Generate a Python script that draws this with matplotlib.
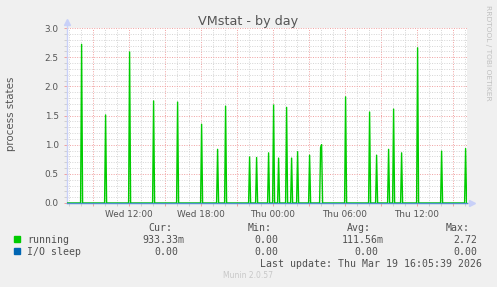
import numpy as np
import matplotlib
matplotlib.use('Agg')
import matplotlib.pyplot as plt
import matplotlib.dates as mdates
from matplotlib.patches import Rectangle

# spikes (5 minute samples, everything else is 0)
spike_times = ['2026-03-18T08:05', '2026-03-18T10:05', '2026-03-18T12:05', '2026-03-18T14:05',
               '2026-03-18T16:05', '2026-03-18T18:05', '2026-03-18T19:25', '2026-03-18T20:05',
               '2026-03-18T22:05', '2026-03-18T22:40', '2026-03-18T23:40', '2026-03-19T00:05',
               '2026-03-19T00:30', '2026-03-19T01:10', '2026-03-19T01:35', '2026-03-19T02:05',
               '2026-03-19T03:05', '2026-03-19T04:00', '2026-03-19T04:05', '2026-03-19T06:05',
               '2026-03-19T08:05', '2026-03-19T08:40', '2026-03-19T09:40', '2026-03-19T10:05',
               '2026-03-19T10:45', '2026-03-19T12:05', '2026-03-19T14:05', '2026-03-19T16:05']
spike_values = [2.72, 1.51, 2.59, 1.75,
                1.73, 1.35, 0.92, 1.66,
                0.79, 0.78, 0.86, 1.68,
                0.77, 1.64, 0.77, 0.88,
                0.82, 0.95, 1.00, 1.82,
                1.56, 0.82, 0.92, 1.61,
                0.86, 2.66, 0.89, 0.9333]

t_start = np.datetime64('2026-03-18T06:50')
t_end = np.datetime64('2026-03-19T16:10')
times = np.arange(t_start, t_end + np.timedelta64(5, 'm'), np.timedelta64(5, 'm'))
running = np.zeros(len(times))
for t, v in zip(spike_times, spike_values):
    running[times == np.datetime64(t)] = v
io_sleep = np.zeros(len(times))

legend_rows = [('running', '#00CC00', '933.33m', '0.00', '111.56m', '2.72'),
               ('I/O sleep', '#0066B3', '0.00', '0.00', '0.00', '0.00')]

W, H = 497, 287
fig = plt.figure(figsize=(W / 100, H / 100), dpi=100, facecolor='#F0F0F0')
ax = fig.add_axes([67 / W, 84 / H, 400 / W, 175 / H])
ax.set_facecolor('white')

ax.plot(times, running, color='#00CC00', lw=1.0, zorder=3)
ax.plot(times, io_sleep, color='#0066B3', lw=1.0, zorder=4, alpha=0.6, clip_on=False)

ax.set_xlim(np.datetime64('2026-03-18T06:52'), np.datetime64('2026-03-19T16:12'))
ax.set_ylim(0, 3.0)

ax.xaxis.set_major_locator(mdates.HourLocator(byhour=range(0, 24, 3)))
ax.xaxis.set_minor_locator(mdates.HourLocator())


def fmt_x(x, pos):
    d = mdates.num2date(x)
    return d.strftime('%a %H:%M') if d.hour % 6 == 0 else ''


ax.xaxis.set_major_formatter(plt.FuncFormatter(fmt_x))
ax.set_yticks(np.arange(0, 3.01, 0.5))
ax.set_yticks(np.arange(0, 3.01, 0.1), minor=True)
ax.yaxis.set_major_formatter(plt.FormatStrFormatter('%.1f'))

ax.set_axisbelow(True)
ax.grid(which='minor', color='#D4D4D4', lw=0.7, linestyle=(0, (1, 1.5)))
ax.grid(which='major', color='#F0A0A0', lw=0.7, linestyle=(0, (1, 1.5)))
ax.tick_params(which='major', length=2, width=0.7, color='#F0A0A0', labelsize=6.4,
               labelcolor='#555555', pad=3)
ax.tick_params(which='minor', length=2, width=0.7, color='#D0D0D0')
ax.tick_params(axis='y', pad=4)

for s in ax.spines.values():
    s.set_visible(False)
axis_col = '#C8D0F8'
ax.plot([0, 0], [0, 1.035], color=axis_col, lw=1, transform=ax.transAxes, clip_on=False, zorder=2)
ax.plot([0], [1.035], marker='^', ms=4, color=axis_col, transform=ax.transAxes, clip_on=False)
ax.plot([0, 1.01], [0, 0], color=axis_col, lw=1, transform=ax.transAxes, clip_on=False, zorder=2)
ax.plot([1.012], [0], marker='>', ms=4, color=axis_col, transform=ax.transAxes, clip_on=False)

ax.set_ylabel('process states', fontsize=7.4, color='#555555')
ax.yaxis.set_label_coords(-51 / 400, 0.51)

fig.text(248 / W, 1 - 25 / H, 'VMstat - by day', ha='center', va='baseline',
         fontsize=9.2, color='#555555')
fig.text(488 / W, 1 - 53 / H, 'RRDTOOL / TOBI OETIKER', rotation=270, ha='center',
         va='center', fontsize=5.4, color='#C0C0C0')

mono = 'DejaVu Sans Mono'
tcol = '#505050'
for lab, xr in zip(['Cur:', 'Min:', 'Avg:', 'Max:'], [172, 272, 371, 470]):
    fig.text(xr / W, 1 - 231 / H, lab, ha='right', va='baseline', family=mono,
             fontsize=7.1, color=tcol)
for i, (name, col, cur, mn, avg, mx) in enumerate(legend_rows):
    yb = 243 + 12 * i
    fig.patches.append(Rectangle((14 / W, 1 - (yb - 1) / H), 6 / W, 6 / H,
                                 transform=fig.transFigure, color=col, figure=fig))
    fig.text(27 / W, 1 - yb / H, name, ha='left', va='baseline', family=mono,
             fontsize=7.1, color=tcol)
    for val, xr in zip([cur, mn, avg, mx], [178, 278, 378, 477]):
        if val.endswith('m'):
            xr += 6
        fig.text(xr / W, 1 - yb / H, val, ha='right', va='baseline', family=mono,
                 fontsize=7.1, color=tcol)
fig.text(482 / W, 1 - 267 / H, 'Last update: Thu Mar 19 16:05:39 2026', ha='right',
         va='baseline', family=mono, fontsize=7.1, color=tcol)
fig.text(248 / W, 1 - 276 / H, 'Munin 2.0.57', ha='center', va='center',
         fontsize=5.5, color='#C8C8C8')

fig.savefig('out.png', dpi=100, facecolor=fig.get_facecolor())
